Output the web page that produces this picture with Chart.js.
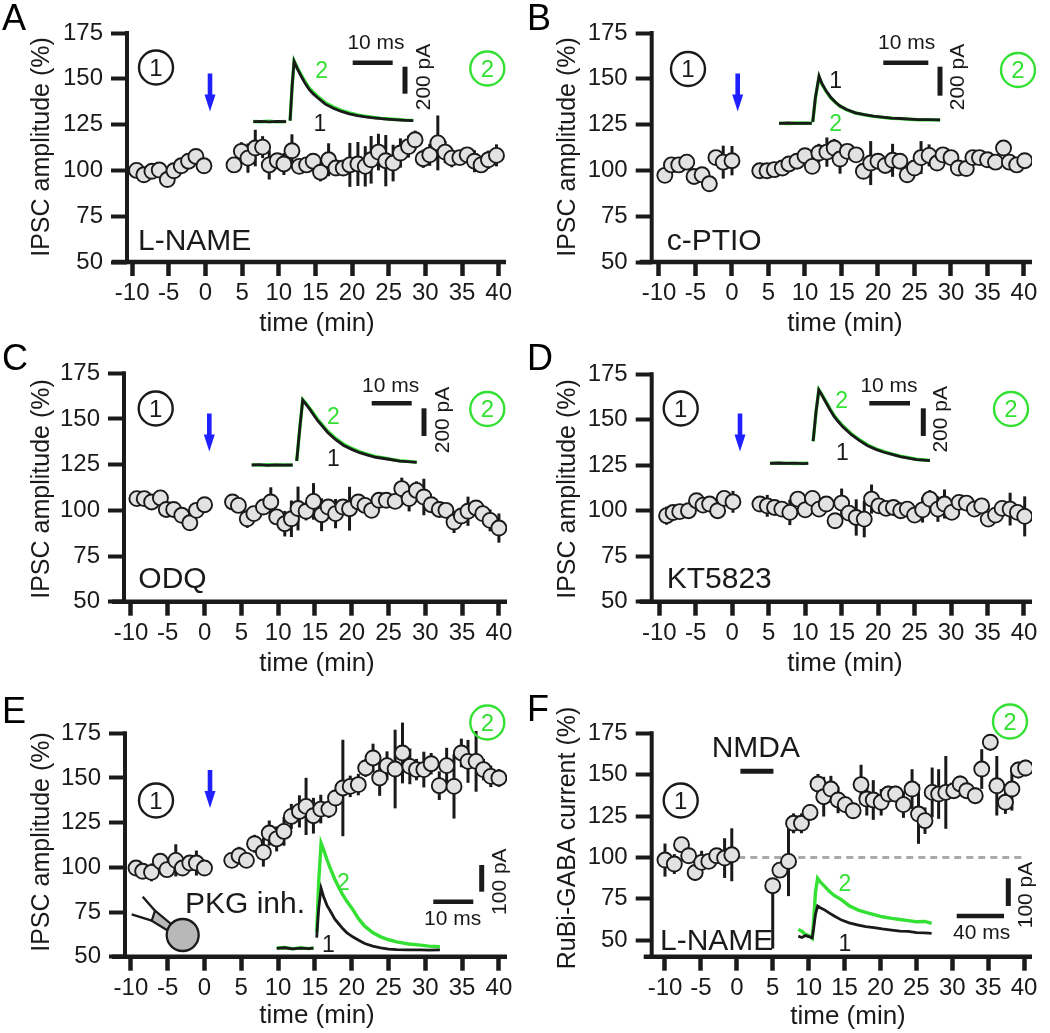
<!DOCTYPE html>
<html>
<head>
<meta charset="utf-8">
<script src="https://cdn.jsdelivr.net/npm/chart.js@4.4.0/dist/chart.umd.min.js"></script>
<style>
  body { margin: 0; background: #fff; }
  #fig { position: relative; width: 1050px; height: 1033px; }
  #fig canvas { position: absolute; }
</style>
</head>
<body>
<div id="fig">
  <canvas id="cA" width="525" height="340" style="left:0;top:0"></canvas>
  <canvas id="cB" width="525" height="340" style="left:525px;top:0"></canvas>
  <canvas id="cC" width="525" height="350" style="left:0;top:340px"></canvas>
  <canvas id="cD" width="525" height="350" style="left:525px;top:340px"></canvas>
  <canvas id="cE" width="525" height="343" style="left:0;top:690px"></canvas>
  <canvas id="cF" width="525" height="343" style="left:525px;top:690px"></canvas>
</div>
<script>
const FONT = '"Liberation Sans", Arial, sans-serif';
const INK = '#1a1a1a';
const GREEN = '#33e033';
const BLUE = '#1f1fff';

// axis ticks
const xTicks = [-10, -5, 0, 5, 10, 15, 20, 25, 30, 35, 40];
const yTicks = [50, 75, 100, 125, 150, 175];

// ---- A: L-NAME ----
const timeA = [-9.4,-8.4,-7.3,-6.3,-5.2,-4.3,-3.3,-2.3,-1.3,-0.2,
  3.9,4.9,5.8,6.8,7.8,8.7,9.8,10.7,11.8,12.8,13.8,14.7,15.7,16.8,17.8,18.8,19.7,20.8,21.8,22.6,
  23.6,24.6,25.6,26.6,27.7,28.6,29.7,30.6,31.7,32.7,33.6,34.7,35.7,36.7,37.6,38.6,39.7];
const ampA = [100,97.6,99.5,100.2,95,99.8,102.5,105,107.6,102.5,
  103,110.4,106.7,112.2,112.7,103,105.3,103.5,110.7,102.2,103,105,99,105.8,101.3,101.3,103,103.5,102.2,105.8,
  110,105.3,104,109.5,113,116.7,106.4,108.5,115,110,106.7,107,108.5,105,103,105.8,108.2];
const semA = [2,3,2,2,3,2,2,2,2,3,
  3,5,8,10,6,8,4,6,9,3,3,4,5,9,4,3,12,12,11,13,
  10,14,10,8,6,5,5,6,15,6,5,4,4,6,4,5,6];

// ---- B: c-PTIO ----
const timeB = [-9.2,-8.3,-7.3,-6.2,-5.2,-4.1,-3.1,-2.2,-1.2,0,
  3.8,4.8,5.8,6.9,7.8,8.9,10,11,11.9,13,14,14.8,15.8,17,18,19,20,21,22,23,
  24,25,25.9,27,28.1,28.9,30,31,32.1,33,33.9,35,36.1,37.2,38,39,40.1];
const ampB = [97.3,103,103,104.5,96.7,97.6,92.7,107,104.5,105.3,
  99.8,99.8,100.4,101.3,103.5,105,108,102.2,109.5,110,112.2,106.2,110.4,108.5,99.5,104,105,102.7,105.5,105,
  97.6,101.3,107,108.2,104,108.5,107,101.3,101,107,107,105.8,104.5,112.2,104.5,103,105.3];
const semB = [2,3,2,3,2,4,2,2,9,8,
  2,3,3,4,3,3,4,3,5,8,5,8,4,3,3,12,4,3,9,3,
  3,3,9,6,3,3,3,3,2,3,3,3,3,3,3,3,3];

// ---- C: ODQ ----
const timeC = [-9.2,-8.2,-7.2,-6,-5.2,-4.2,-3.1,-2,-1.1,0,
  3.8,4.6,5.8,6.7,8,9,9.8,10.9,11.8,12.7,13.8,14.8,15.9,16.8,17.8,18.8,19.7,20.9,21.8,22.7,
  23.7,24.7,25.9,26.8,27.8,28.8,29.8,30.8,31.9,32.8,33.9,34.9,35.8,36.9,37.8,38.8,40];
const ampC = [106.4,106.4,104.6,106.8,100.5,100.5,97.3,93.2,100,103.1,
  104.6,102.7,95.4,98.2,101.8,104.6,96.4,92.7,95.4,101,99.5,104.9,97.6,101.8,98.2,101.8,100.9,104.6,102.7,100,
  105.5,105.5,104.9,111.9,106.4,110.9,107.3,103.1,100.5,100,93.6,96.9,99.5,101.3,98.2,94.5,90.3];
const semC = [2,2,2,2,3,2,3,4,2,2,
  4,3,5,3,3,8,3,7,10,12,5,10,9,4,8,4,12,3,3,4,
  3,3,4,6,7,5,10,3,3,3,6,3,8,3,3,6,8];

// ---- D: KT5823 ----
const timeD = [-9,-8.1,-7.2,-6,-4.9,-4,-3.1,-2,-1.1,0.1,
  3.8,4.8,5.8,6.8,7.9,9,10,11,11.9,12.9,14.1,15,16,17,18.1,19.1,20.1,21.1,22.1,23.1,
  24,25,26.1,27.1,28.2,29.1,30.1,31.1,32.1,33.2,34.2,35.1,36.1,37,38.1,39.1,40.1];
const ampD = [97.3,99,99.5,100,105.5,103.1,103.7,100,106.8,104.9,
  103.7,102.7,101.8,100.9,99.1,106.4,100.5,106.8,100.9,103.7,94.5,104.2,98.7,96.3,95.4,106.4,102.7,101.3,101.8,100,
  100.9,97.6,100.5,106.4,100.9,103.7,99.1,104.6,104.2,100.9,102.7,95.4,97.6,101.3,100.9,99.1,96.9];
const semD = [5,3,2,2,2,2,2,2,2,6,
  3,6,3,3,7,3,3,3,3,3,3,8,3,10,10,8,3,3,3,3,
  3,3,7,5,7,8,3,3,3,3,3,3,3,3,9,3,11];

// ---- E: PKG inhibitor in pipette ----
const timeE = [-9.3,-8.4,-7.2,-6,-5.1,-3.9,-3,-2,-1.1,0,
  3.7,4.7,5.7,6.8,8,8.8,9.8,10.8,11.8,12.9,13.8,14.8,15.8,16.9,17.8,18.8,19.8,20.9,21.9,22.9,
  23.8,24.8,25.9,26.9,27.9,28.8,29.8,30.8,31.9,32.9,33.9,34.9,35.8,36.9,37.9,38.9,40];
const ampE = [99.6,97.8,97.2,103.4,98.7,103.9,99.6,102.4,102.4,99.6,
  103.9,106.5,103.9,113.2,108.4,119.2,115.9,120.1,128.5,131.3,134.1,128.9,132.6,132.6,138.8,144.4,145.3,146.3,155.6,161.2,
  150,156.9,155,164,156.5,154.7,154.7,158,145.7,156.9,145.3,164,159.3,159.3,154.7,150.9,150];
const semE = [3,3,5,3,3,9,3,3,7,3,
  4,5,4,5,8,7,7,8,7,9,16,10,8,5,5,27,6,6,5,8,
  10,8,22,17,10,6,10,6,8,10,18,8,12,17,6,6,5];

// ---- F: RuBi-GABA, NMDA in L-NAME ----
const timeF = [-10,-8.7,-7.7,-6.7,-5.8,-4.9,-3.9,-2.8,-1.7,-0.7,
  5,6,7.2,7.9,9,10.2,11.3,12.1,13.1,14.1,15.1,16.2,17.3,18.1,19,20.1,21.1,22.1,23.2,24.4,
  25.3,26.2,27.2,28.1,29.1,30.2,31.1,32,33.2,34.1,35.3,36.2,37.4,38.3,39.2,40.2];
const ampF = [98.4,96,107.7,101,90.9,97,97.6,101,99.6,101.6,
  82.9,92.3,97.6,120.6,120.6,127.2,144.4,136.7,141.3,134.7,131.9,128.2,144,135.3,134.7,133.3,138.3,138.3,131.9,141.3,
  126.2,122.2,139.3,138.3,139.3,140.3,144.4,140.3,137.3,153.4,169.6,143.3,133.3,141.3,152.8,154];
const errUpF = [10,6,3,3,5,7,3,4,12,16,
  0,4,21,6,6,5,6,12,8,8,5,5,12,10,12,8,5,5,8,12,
  18,8,15,15,22,5,5,5,5,12,5,18,7,13,5,5];
const errDownF = [10,6,3,3,5,7,3,4,12,16,
  38,4,21,6,6,5,6,12,8,8,5,5,12,10,12,8,5,5,8,12,
  18,8,15,15,22,5,5,5,5,12,5,18,7,13,5,5];
const nmdaOn = [0.5, 5.1];
const nmdaLevel = 152;
const refLevel = 100;
const refSpan = [0.2, 40.2];

// ---- example currents (ms, pA); 1 = before, 2 = after ----
const trA_t = [0,2,4,6,8.2,8.6,9.2,9.7,10.2,11,12,13,14,15,16,18,20,22,24,26,28,30,32,34,36,38,40];
const trA_1 = [0,3,-2,2,0,null,8,260,447,393,335,282,237,206,179,130,100,76,58,45,35,28,22,17,13,10,8];
const trA_2 = [2,0,3,-1,1,null,8,262,450,400,345,293,249,218,191,140,109,84,65,51,40,32,25,20,16,12,10];

const trB_t = [0,2,4,6,7.3,7.35,7.5,8.1,8.9,9.5,10.5,11.5,12.5,13.5,15,17,19,21,23,25,27,29,31,33,35.8];
const trB_1 = [0,2,-1,1,0,null,10,180,326,277,222,179,147,121,95,72,59,49,42,36,33,29,26,26,23];
const trB_2 = [1,-1,2,0,1,null,8,175,320,272,218,176,145,119,94,71,58,48,41,35,32,28,25,25,22];

const trC_t = [0,2,4,6,8,10.25,10.7,11.25,12,12.75,13.5,14.5,15.5,16.5,17.5,19,21,23,25,27,29,31,33,35,37,39,41.25];
const trC_1 = [0,2,-2,1,-1,0,null,30,260,470,442,404,362,320,287,235,183,141,113,89,71,56,47,38,28,24,19];
const trC_2 = [1,-1,2,0,1,-1,null,28,258,472,447,411,370,329,296,244,192,149,120,95,76,61,51,41,31,26,21];

const trD_t = [0,2,4,6,8,9.4,10,10.6,11.3,12,12.75,13.75,14.75,15.75,16.75,18,20,22,24,26,28,30,32,34,36,39.3];
const trD_1 = [0,2,-1,1,-2,0,null,160,370,530,493,440,387,339,302,260,207,164,127,101,80,64,48,37,27,19];
const trD_2 = [1,0,1,-1,0,1,null,158,368,532,497,446,394,346,309,267,213,170,132,105,84,67,51,40,29,21];

const trE_t = [0,2,4,6,8,9.2,9.6,10,10.5,11.1,11.8,12.6,13.5,14.5,15.5,16.5,17.5,19,20.5,22,24,26,28,30,33,36,38,40.8];
const trE_1 = [0,2,-2,1,-1,1,null,40,150,225,190,160,137,110,92,74,59,43,30,18,8,2,-3,-5,-6,-6,-7,-6];
const trE_2 = [1,3,-2,2,-1,1,null,60,250,394,366,331,296,260,229,201,177,146,110,83,59,43,32,24,16,12,8,6];

const trF_t = [0,3,6,9,11.8,13,14.5,16.3,19,22.5,26,30,36.6,43,50.7,57,64,71,78.9,86,93,100,107,112.7];
const trF_1 = [2,-3,4,0,-4,30,80,111,104,96,86,76,60,50,42,36,33,28,24,20,19,15,14,12];
const trF_2 = [26,20,8,4,-6,60,160,211,196,181,165,150,133,112,96,88,80,72,66,62,58,54,55,48];

const IPSC_TITLE = 'IPSC amplitude (%)';

const panels = [
  { canvas: 'cA', letter: 'A', letterY: 30, time: timeA, mean: ampA, up: semA, down: semA,
    area: { left: 127, right: 506, top: 33, bottom: 262 }, xMin: -10.7, xMax: 41, yMin: 50, yMax: 175, axisStart: 15,
    trace: { t: trA_t, one: trA_1, two: trA_2, px0: 253.3, pxPerMs: 4, py0: 121.7, pxPerPA: 0.135 },
    yTitle: [IPSC_TITLE, 42, 147], xTitle: [317, 324],
    c1: [156, 67.5], c2: [487.3, 68.5], arrow: [210, 73.5, 111.5],
    drug: ['L-NAME', 138, 250], lab1: [320, 125], lab2: [321.7, 71.7],
    msBar: { x: 352.7, y: 62.7, ms: 10, text: '10 ms', lx: 376, ly: 43 },
    paBar: { x: 405, y: 66.7, pa: 200, text: '200 pA', lx: 424, ly: 77 } },
  { canvas: 'cB', letter: 'B', letterY: 30, time: timeB, mean: ampB, up: semB, down: semB,
    area: { left: 126.7, right: 507, top: 33, bottom: 262 }, xMin: -11, xMax: 41.1, yMin: 50, yMax: 175, axisStart: 12,
    trace: { t: trB_t, one: trB_1, two: trB_2, px0: 254, pxPerMs: 4.5, py0: 123.3, pxPerPA: 0.145 },
    yTitle: [IPSC_TITLE, 43, 147], xTitle: [320, 324],
    c1: [163, 69], c2: [493, 70], arrow: [212.7, 73.5, 111.5],
    drug: ['c-PTIO', 141.7, 250], lab1: [310.7, 81.7], lab2: [310.7, 125],
    msBar: { x: 358.3, y: 62.7, ms: 10, text: '10 ms', lx: 381.7, ly: 43.3 },
    paBar: { x: 415, y: 66.7, pa: 200, text: '200 pA', lx: 433, ly: 77 } },
  { canvas: 'cC', letter: 'C', letterY: 30, time: timeC, mean: ampC, up: semC, down: semC,
    area: { left: 124, right: 507, top: 33.3, bottom: 261.7 }, xMin: -10.95, xMax: 41.1, yMin: 50, yMax: 175, axisStart: 12,
    trace: { t: trC_t, one: trC_1, two: trC_2, px0: 251.7, pxPerMs: 4, py0: 125, pxPerPA: 0.1383 },
    yTitle: [IPSC_TITLE, 42, 149], xTitle: [317, 324],
    c1: [155.7, 68.5], c2: [487.3, 69], arrow: [209.3, 73.5, 111.5],
    drug: ['ODQ', 138.3, 248], lab1: [333.3, 119.3], lab2: [333.3, 77.3],
    msBar: { x: 371.7, y: 63.3, ms: 10, text: '10 ms', lx: 390.7, ly: 46.7 },
    paBar: { x: 424, y: 68.3, pa: 200, text: '200 pA', lx: 443.3, ly: 80 } },
  { canvas: 'cD', letter: 'D', letterY: 30, time: timeD, mean: ampD, up: semD, down: semD,
    area: { left: 126.7, right: 507, top: 34.3, bottom: 261.7 }, xMin: -11.04, xMax: 41.1, yMin: 50, yMax: 175, axisStart: 12,
    trace: { t: trD_t, one: trD_1, two: trD_2, px0: 245, pxPerMs: 4.07, py0: 123.3, pxPerPA: 0.1383 },
    yTitle: [IPSC_TITLE, 43, 149], xTitle: [320, 324],
    c1: [155.7, 68.5], c2: [486, 69], arrow: [215, 73.5, 111.5],
    drug: ['KT5823', 141.7, 248], lab1: [317.3, 113.3], lab2: [316.7, 61.7],
    msBar: { x: 344.3, y: 63.3, ms: 10, text: '10 ms', lx: 364, ly: 46.7 },
    paBar: { x: 398.3, y: 68.3, pa: 200, text: '200 pA', lx: 416.7, ly: 79.3 } },
  { canvas: 'cE', letter: 'E', letterY: 33, time: timeE, mean: ampE, up: semE, down: semE,
    area: { left: 125, right: 507, top: 43.3, bottom: 266.7 }, xMin: -10.8, xMax: 41.1, yMin: 50, yMax: 175, axisStart: 13,
    trace: { t: trE_t, one: trE_1, two: trE_2, px0: 276.7, pxPerMs: 4, py0: 258.3, pxPerPA: 0.2667 },
    yTitle: [IPSC_TITLE, 42, 152], xTitle: [317, 326],
    c1: [156, 110.5], c2: [487.3, 32.5], arrow: [210, 80, 118],
    drug: ['PKG inh.', 185, 222.7], lab1: [328.3, 256], lab2: [343.3, 193.3], cell: true,
    msBar: { x: 433.3, y: 211.7, ms: 10, text: '10 ms', lx: 452.7, ly: 229.3 },
    paBar: { x: 481.7, y: 175, pa: 100, text: '100 pA', lx: 500, ly: 191.7 } },
  { canvas: 'cF', letter: 'F', letterY: 31, time: timeF, mean: ampF, up: errUpF, down: errDownF,
    area: { left: 126.7, right: 507, top: 43.3, bottom: 266.7 }, xMin: -11.85, xMax: 41.1, yMin: 40, yMax: 175, axisStart: 8,
    trace: { t: trF_t, one: trF_1, two: trF_2, px0: 273.3, pxPerMs: 1.183, py0: 246.7, pxPerPA: 0.2767 },
    yTitle: ['RuBi-GABA current (%)', 43, 148], xTitle: [323, 327],
    c1: [155.7, 110.5], c2: [485, 31.5], arrow: null,
    drug: ['L-NAME', 135, 260], note: ['NMDA', 186.7, 66.7], lab1: [320, 255], lab2: [320, 195],
    msBar: { x: 431.7, y: 226, ms: 40, text: '40 ms', lx: 456.7, ly: 243.3 },
    paBar: { x: 483.3, y: 188.3, pa: 100, text: '100 pA', lx: 501.7, ly: 205 },
    extra: [
      { data: [{ x: refSpan[0], y: refLevel }, { x: refSpan[1], y: refLevel }], showLine: true,
        borderColor: '#aaaaaa', borderWidth: 3, borderDash: [7, 5], pointRadius: 0, order: 4 },
      { data: [{ x: nmdaOn[0], y: nmdaLevel }, { x: nmdaOn[1], y: nmdaLevel }], showLine: true,
        borderColor: INK, borderWidth: 5, pointRadius: 0, order: 4 }
    ] }
];

function text(ctx, s, x, y, size, color, align, base, rot) {
  ctx.save();
  ctx.font = size + 'px ' + FONT;
  ctx.fillStyle = color;
  ctx.textAlign = align || 'left';
  ctx.textBaseline = base || 'alphabetic';
  ctx.translate(x, y);
  if (rot) ctx.rotate(rot);
  ctx.fillText(s, 0, 0);
  ctx.restore();
}

function circled(ctx, s, x, y, color) {
  ctx.save();
  ctx.strokeStyle = color;
  ctx.lineWidth = 2.4;
  ctx.beginPath();
  ctx.arc(x, y, 17, 0, Math.PI * 2);
  ctx.stroke();
  ctx.restore();
  text(ctx, s, x, y + 1.5, 24, color, 'center', 'middle');
}

function seg(ctx, x0, y0, x1, y1, w, color) {
  ctx.save();
  ctx.strokeStyle = color;
  ctx.lineWidth = w;
  ctx.lineCap = 'butt';
  ctx.beginPath();
  ctx.moveTo(x0, y0);
  ctx.lineTo(x1, y1);
  ctx.stroke();
  ctx.restore();
}

function decor(p) {
  return {
    id: 'decor',
    beforeDatasetsDraw(chart) {
      const ctx = chart.ctx, y = chart.scales.y;
      const pts = chart.getDatasetMeta(0).data;
      pts.forEach((el, i) => {
        const top = y.getPixelForValue(p.mean[i] + p.up[i]);
        const bot = y.getPixelForValue(p.mean[i] - p.down[i]);
        seg(ctx, el.x, top, el.x, bot, 3, INK);
      });
    },
    afterDraw(chart) {
      const ctx = chart.ctx, ca = chart.chartArea;
      // spines
      seg(ctx, ca.left, ca.top - 2, ca.left, ca.bottom + 2, 4, INK);
      seg(ctx, ca.left - p.axisStart, ca.bottom, ca.right, ca.bottom, 4.5, INK);
      // titles
      text(ctx, p.letter, 2, p.letterY, 36, '#000', 'left', 'alphabetic');
      text(ctx, p.yTitle[0], p.yTitle[1], p.yTitle[2], 25, INK, 'center', 'middle', -Math.PI / 2);
      text(ctx, 'time (min)', p.xTitle[0], p.xTitle[1], 26, INK, 'center', 'middle');
      // condition labels
      circled(ctx, '1', p.c1[0], p.c1[1], INK);
      circled(ctx, '2', p.c2[0], p.c2[1], GREEN);
      text(ctx, p.drug[0], p.drug[1], p.drug[2], 30, INK);
      if (p.note) text(ctx, p.note[0], p.note[1], p.note[2], 30, INK);
      text(ctx, '1', p.lab1[0], p.lab1[1], 23, INK, 'center', 'middle');
      text(ctx, '2', p.lab2[0], p.lab2[1], 23, GREEN, 'center', 'middle');
      // application arrow
      if (p.arrow) {
        const [ax, a0, a1] = p.arrow;
        const hs = a1 - 17;
        ctx.save();
        ctx.fillStyle = BLUE;
        ctx.fillRect(ax - 2.3, a0, 4.6, hs - a0 + 1);
        ctx.beginPath();
        ctx.moveTo(ax - 5.5, hs);
        ctx.lineTo(ax + 5.5, hs);
        ctx.lineTo(ax, a1);
        ctx.closePath();
        ctx.fill();
        ctx.restore();
      }
      // scale bars, sized through the trace scales
      const sx = chart.scales.xTrace, sy = chart.scales.yTrace;
      const msLen = sx.getPixelForValue(p.msBar.ms) - sx.getPixelForValue(0);
      const paLen = sy.getPixelForValue(0) - sy.getPixelForValue(p.paBar.pa);
      seg(ctx, p.msBar.x, p.msBar.y, p.msBar.x + msLen, p.msBar.y, 4.5, INK);
      seg(ctx, p.paBar.x, p.paBar.y, p.paBar.x, p.paBar.y + paLen, 5, INK);
      text(ctx, p.msBar.text, p.msBar.lx, p.msBar.ly, 21, INK, 'center', 'middle');
      text(ctx, p.paBar.text, p.paBar.lx, p.paBar.ly, 21, INK, 'center', 'middle', -Math.PI / 2);
      // recording pipette with cell
      if (p.cell) {
        ctx.save();
        ctx.lineWidth = 2.2;
        ctx.strokeStyle = INK;
        ctx.fillStyle = '#b8b8b8';
        ctx.beginPath();
        ctx.moveTo(155, 220.7);
        ctx.lineTo(174, 236.5);
        ctx.lineTo(170, 242);
        ctx.lineTo(151.7, 230.7);
        ctx.closePath();
        ctx.fill();
        ctx.stroke();
        ctx.restore();
        seg(ctx, 142.7, 206.7, 155, 220.7, 2.4, INK);
        seg(ctx, 131.7, 224.3, 151.7, 230.7, 2.4, INK);
        ctx.save();
        ctx.lineWidth = 2.3;
        ctx.strokeStyle = INK;
        ctx.fillStyle = '#b8b8b8';
        ctx.beginPath();
        ctx.arc(182.7, 245, 16, 0, Math.PI * 2);
        ctx.fill();
        ctx.stroke();
        ctx.restore();
      }
    }
  };
}

function makeChart(p) {
  const cv = document.getElementById(p.canvas);
  const W = cv.width, H = cv.height, a = p.area, tr = p.trace;
  const xy = (xs, ys) => xs.map((v, i) => ({ x: v, y: ys[i] }));
  const datasets = [
    { data: xy(p.time, p.mean), pointRadius: 7.5, pointBackgroundColor: '#e2e2e2',
      pointBorderColor: INK, pointBorderWidth: 1.9, order: 0 },
    { data: xy(tr.t, tr.one), xAxisID: 'xTrace', yAxisID: 'yTrace', showLine: true, spanGaps: false,
      borderColor: INK, borderWidth: 2.8, pointRadius: 0, order: 1 },
    { data: xy(tr.t, tr.two), xAxisID: 'xTrace', yAxisID: 'yTrace', showLine: true, spanGaps: false,
      borderColor: GREEN, borderWidth: 3.4, pointRadius: 0, order: 2 }
  ];
  (p.extra || []).forEach(d => datasets.push(d));

  const tickFont = { family: FONT, size: 24 };
  new Chart(cv, {
    type: 'scatter',
    data: { datasets },
    options: {
      responsive: false,
      animation: false,
      events: [],
      layout: { padding: { left: 0, top: a.top, right: W - a.right, bottom: 0 } },
      plugins: { legend: { display: false }, tooltip: { enabled: false } },
      scales: {
        x: {
          type: 'linear', min: p.xMin, max: p.xMax,
          afterFit: s => { s.height = H - a.bottom; },
          afterBuildTicks: s => { s.ticks = xTicks.map(v => ({ value: v })); },
          border: { display: false },
          grid: { drawOnChartArea: false, drawTicks: true, tickLength: 14, tickWidth: 4.5, tickColor: INK },
          ticks: { autoSkip: false, maxRotation: 0, minRotation: 0, padding: 3, color: INK, font: tickFont,
                   callback: v => String(v) }
        },
        y: {
          type: 'linear', min: p.yMin, max: p.yMax,
          afterFit: s => { s.width = a.left; },
          afterBuildTicks: s => { s.ticks = yTicks.map(v => ({ value: v })); },
          border: { display: false },
          grid: { drawOnChartArea: false, drawTicks: true, tickLength: 16, tickWidth: 4, tickColor: INK },
          ticks: { padding: 8, color: INK, font: tickFont, callback: v => String(v) }
        },
        xTrace: {
          type: 'linear', display: false,
          min: (a.left - tr.px0) / tr.pxPerMs, max: (a.right - tr.px0) / tr.pxPerMs
        },
        yTrace: {
          type: 'linear', display: false,
          min: (tr.py0 - a.bottom) / tr.pxPerPA, max: (tr.py0 - a.top) / tr.pxPerPA
        }
      }
    },
    plugins: [decor(p)]
  });
}

panels.forEach(makeChart);
</script>
</body>
</html>
